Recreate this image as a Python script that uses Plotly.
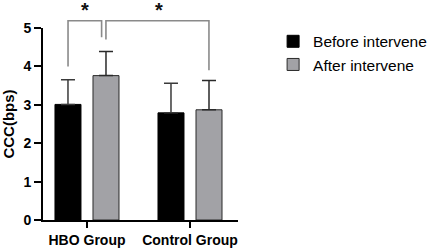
import plotly.graph_objects as go

categories = ["HBO Group", "Control Group"]
before_vals = [3.01, 2.79]
before_err = [0.64, 0.77]
after_vals = [3.76, 2.87]
after_err = [0.63, 0.76]
series_names = ["Before intervene", "After intervene"]

FONT = "Arial, Liberation Sans, sans-serif"

fig = go.Figure()
fig.add_trace(go.Bar(
    x=categories, y=before_vals, name=series_names[0],
    marker=dict(color="#000000", line=dict(color="#000000", width=1)),
    error_y=dict(type="data", array=before_err, arrayminus=[0, 0], symmetric=False,
                 color="#3a3a3a", thickness=1.5, width=7),
))
fig.add_trace(go.Bar(
    x=categories, y=after_vals, name=series_names[1],
    marker=dict(color="#a2a2a6", line=dict(color="#2a2a2a", width=1)),
    error_y=dict(type="data", array=after_err, arrayminus=[0, 0], symmetric=False,
                 color="#2a2a2a", thickness=1.5, width=7),
))

# significance brackets
def ypap(v):
    return v / 5.0

bracket_color = "#8a8a8a"
brackets = [
    # (x_left, x_right, y_left_bottom, y_right_bottom)
    (-0.184, 0.142, 4.0, 4.76),
    (0.184, 1.184, 4.70, 3.9),
]
top = 5.19
for xl, xr, yl, yr in brackets:
    path = f"M {xl},{ypap(yl)} L {xl},{ypap(top)} L {xr},{ypap(top)} L {xr},{ypap(yr)}"
    fig.add_shape(type="path", path=path, xref="x", yref="paper",
                  line=dict(color=bracket_color, width=1.6))

for xs in [-0.02, 0.70]:
    fig.add_annotation(x=xs, y=ypap(5.46), xref="x", yref="paper", text="<b>*</b>",
                       showarrow=False, font=dict(size=20, color="#111", family=FONT),
                       yanchor="middle")

fig.update_layout(
    width=429, height=249,
    margin=dict(l=43, r=191, t=28, b=29, autoexpand=False),
    paper_bgcolor="white", plot_bgcolor="white",
    barmode="group", bargap=0.262, bargroupgap=0.316,
    font=dict(family=FONT, color="#000"),
    showlegend=True,
    legend=dict(x=1.18, y=1.017, xanchor="left", yanchor="top",
                font=dict(size=15.5, family=FONT, color="#000"),
                bgcolor="rgba(0,0,0,0)"),
    xaxis=dict(range=[-0.427, 1.466], showline=True, linecolor="#000", linewidth=2,
               ticks="outside", ticklen=6, tickwidth=2, tickcolor="#000",
               tickfont=dict(size=14, family=FONT, color="#000", weight="bold"),
               showgrid=False, zeroline=False, automargin=False),
    yaxis=dict(range=[0, 5], tickvals=[0, 1, 2, 3, 4, 5], showline=True, linecolor="#000",
               linewidth=2, ticks="outside", ticklen=7, tickwidth=2, tickcolor="#000",
               tickfont=dict(size=14, family=FONT, color="#000", weight="bold"),
               title=dict(text="<b>CCC(bps)</b>", font=dict(size=15, family=FONT, color="#000"),
                          standoff=6),
               showgrid=False, zeroline=False, automargin=False),
)

fig.write_html("out.html", config={"displayModeBar": False},
               post_script="document.body.style.margin='0px';")
